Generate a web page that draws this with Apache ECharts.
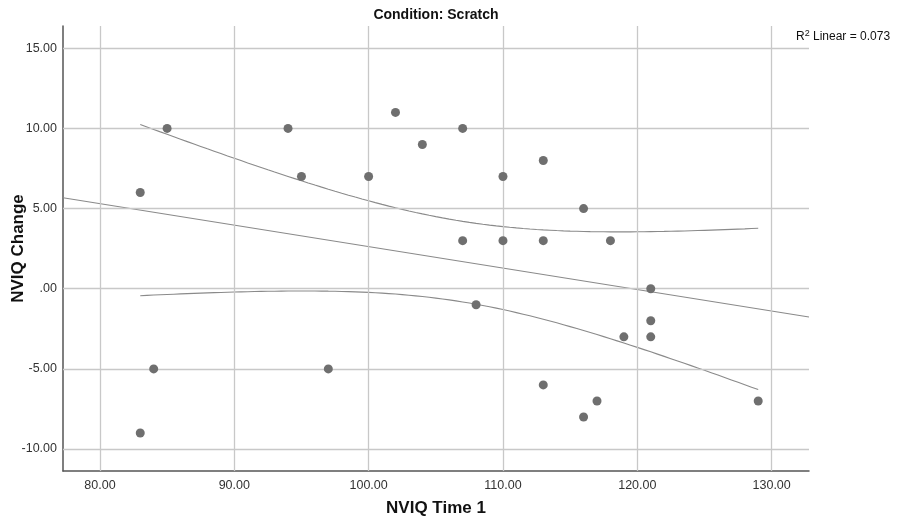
<!DOCTYPE html>
<html>
<head>
<meta charset="utf-8">
<script src="https://cdn.jsdelivr.net/npm/echarts@6/dist/echarts.min.js"></script>
<style>html,body{margin:0;padding:0;background:#fff}#c{width:898px;height:517px}</style>
</head>
<body>
<div id="c"></div>
<script>
// Data
var nviqTime1  = [83, 85, 94, 95, 100, 102, 104, 107, 107, 108, 110, 110, 113, 113, 113, 116, 116, 117, 118, 119, 121, 121, 121, 129, 83, 84, 97];
var nviqChange = [6, 10, 10, 7, 7, 11, 9, 10, 3, -1, 7, 3, 8, 3, -6, 5, -8, -7, 3, -3, 0, -2, -3, -7, -9, -5, -5];
var xTicks = [80, 90, 100, 110, 120, 130];
var yTicks = [15, 10, 5, 0, -5, -10];
var xRange = [77.25, 132.78];
var yRange = [-11.37, 16.39];
var tCrit = 2.06; // t(0.975, df = 25)

// Linear fit and 95% mean confidence band computed from the data
var n = nviqTime1.length, mx = 0, my = 0;
for (var i = 0; i < n; i++) { mx += nviqTime1[i]; my += nviqChange[i]; }
mx /= n; my /= n;
var sxx = 0, sxy = 0, syy = 0;
for (i = 0; i < n; i++) {
  var dx = nviqTime1[i] - mx, dy = nviqChange[i] - my;
  sxx += dx * dx; sxy += dx * dy; syy += dy * dy;
}
var slope = sxy / sxx, icpt = my - slope * mx;
var s = Math.sqrt((syy - sxy * sxy / sxx) / (n - 2));
var xMin = Math.min.apply(null, nviqTime1), xMax = Math.max.apply(null, nviqTime1);
var fitLine = [[xRange[0], icpt + slope * xRange[0]], [xRange[1], icpt + slope * xRange[1]]];
var upper = [], lower = [];
for (var x = xMin; x <= xMax + 1e-9; x += 0.5) {
  var yh = icpt + slope * x;
  var se = s * Math.sqrt(1 / n + (x - mx) * (x - mx) / sxx);
  upper.push([x, yh + tCrit * se]);
  lower.push([x, yh - tCrit * se]);
}
var points = nviqTime1.map(function (v, k) { return [v, nviqChange[k]]; });

var fmt = function (v) { return v === 0 ? '.00' : v.toFixed(2); };
var font = 'Liberation Sans, Arial, sans-serif';
var gridStyle = { color: '#c8c8c8', width: 1.3, type: 'solid' };
var curveStyle = { color: '#8a8a8a', width: 1.1 };

var chart = echarts.init(document.getElementById('c'), null, { renderer: 'canvas' });
chart.setOption({
  animation: false,
  backgroundColor: '#fff',
  textStyle: { fontFamily: font },
  title: [{
    text: 'Condition: Scratch', left: 436, top: 8, textAlign: 'center', padding: 0,
    textStyle: { fontSize: 14, fontWeight: 'bold', color: '#111', fontFamily: font }
  }, {
    text: '{n|R}{s|2}{n| Linear = 0.073}', left: 796, top: 29, padding: 0,
    textStyle: { fontWeight: 'normal', rich: {
      n: { fontSize: 12, fontWeight: 'normal', color: '#111', fontFamily: font },
      s: { fontSize: 9, fontWeight: 'normal', color: '#111', fontFamily: font, padding: [0, 0, 6, 0] }
    } }
  }],
  grid: { left: 63, right: 89, top: 26, bottom: 46, containLabel: false, outerBoundsMode: 'none' },
  xAxis: {
    type: 'value', min: xRange[0], max: xRange[1],
    name: 'NVIQ Time 1', nameLocation: 'middle', nameGap: 29, nameMoveOverlap: false,
    nameTextStyle: { fontSize: 17, fontWeight: 'bold', color: '#111', fontFamily: font },
    axisLine: { show: true, onZero: false, lineStyle: { color: '#555', width: 1.5 } },
    axisTick: { show: false },
    axisLabel: { customValues: xTicks, formatter: fmt, fontSize: 12.5, color: '#333', margin: 8, fontFamily: font },
    splitLine: { show: false }
  },
  yAxis: {
    type: 'value', min: yRange[0], max: yRange[1],
    name: 'NVIQ Change', nameLocation: 'middle', nameGap: 36, nameMoveOverlap: false,
    nameTextStyle: { fontSize: 17, fontWeight: 'bold', color: '#111', fontFamily: font },
    axisLine: { show: true, onZero: false, lineStyle: { color: '#555', width: 1.5 } },
    axisTick: { show: false },
    axisLabel: { customValues: yTicks, formatter: fmt, fontSize: 12.5, color: '#333', margin: 6, fontFamily: font },
    splitLine: { show: false }
  },
  series: [{
    type: 'line', data: [], z: 1, silent: true,
    markLine: {
      silent: true, symbol: ['none', 'none'], label: { show: false },
      lineStyle: gridStyle, animation: false,
      data: xTicks.map(function (v) { return { xAxis: v }; }).concat(
            yTicks.map(function (v) { return { yAxis: v }; }))
    }
  }, {
    type: 'line', data: fitLine, showSymbol: false, symbol: 'none', z: 3,
    lineStyle: curveStyle, silent: true
  }, {
    type: 'line', data: upper, showSymbol: false, symbol: 'none', z: 3,
    lineStyle: curveStyle, silent: true, smooth: false
  }, {
    type: 'line', data: lower, showSymbol: false, symbol: 'none', z: 3,
    lineStyle: curveStyle, silent: true, smooth: false
  }, {
    type: 'scatter', data: points, symbolSize: 9, z: 5,
    itemStyle: { color: '#6f6f6f', opacity: 1 }
  }]
});
</script>
</body>
</html>
